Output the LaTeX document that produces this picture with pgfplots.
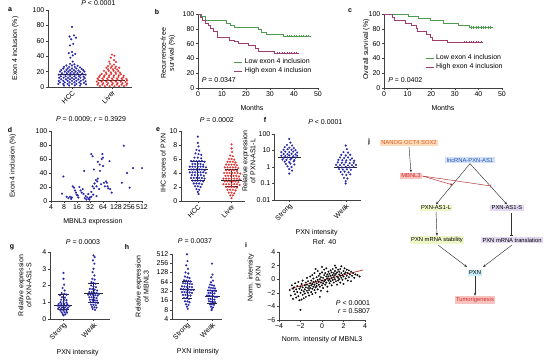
\documentclass[border=0pt]{standalone}
\usepackage{fontspec}
\setmainfont{Liberation Sans}
\usepackage{pgfplots}
\pgfplotsset{compat=1.18}
\usetikzlibrary{arrows.meta}

\definecolor{dotblue}{HTML}{2424A8}
\definecolor{dotred}{HTML}{DE3434}
\definecolor{kmgreen}{HTML}{4E9A4E}
\definecolor{kmpurple}{HTML}{9E3D6E}
\definecolor{boxorange}{HTML}{FDDDBA}
\definecolor{txtorange}{HTML}{E0562A}
\definecolor{boxred}{HTML}{F7C3BF}
\definecolor{txtred}{HTML}{D42A2A}
\definecolor{boxblue}{HTML}{CFE0F7}
\definecolor{txtblue}{HTML}{2A55B5}
\definecolor{boxgreen}{HTML}{EEF7C8}
\definecolor{boxpurple}{HTML}{E2D8F2}
\definecolor{boxcyan}{HTML}{C8EEF7}

\pgfplotsset{
  panel/.style={scale only axis, anchor=south west, clip=false,
    axis x line*=bottom, axis y line*=left,
    axis line style={black!75, line width=0.4pt},
    tick style={black!75, line width=0.4pt},
    tick align=outside, major tick length=2pt,
    tick label style={font=\fontsize{7}{8}\selectfont},
    label style={font=\fontsize{7}{8}\selectfont, align=center},
    title style={font=\fontsize{7}{8}\selectfont},
    /pgf/number format/assume math mode=true,
    xticklabel style={inner sep=1.5pt}, yticklabel style={inner sep=1.5pt}},
  rotlabels/.style={xticklabel style={rotate=45, anchor=north east, inner sep=0.5pt}},
  sw/.style={only marks, mark=*, mark size=1.0pt, color=#1, mark options={solid, fill=#1, draw=#1, line width=0.1pt}},
  stat/.style={black!85, line width=0.8pt, forget plot},
}

\begin{document}
\begin{tikzpicture}[x=1pt,y=1pt]
\useasboundingbox (0,0) rectangle (550,362);

% ---------------- a ----------------
\begin{axis}[panel, at={(48pt,275pt)}, width=84pt, height=77pt,
  xmin=-0.6, xmax=1.5, ymin=0, ymax=100,
  xtick={0,1}, xticklabels={HCC,Liver}, rotlabels,
  ytick={0,20,...,100},
  title={\textit{P} < 0.0001}, title style={at={(axis description cs:0.6,1.01)}, anchor=center},
  ylabel={Exon 4 inclusion (\%)}, ylabel style={at={(axis description cs:-0.39,0.5)}, anchor=center}]
\addplot[sw=dotblue] coordinates {
(0,78)
(0.05,67)(-0.06,65.5)(0.1,64)(-0.02,62)
(0.03,56)(-0.05,54)
(0,45.5)(-0.08,44)(0.08,43)(0.02,41)(-0.04,38)
(0.02,33)(-0.05,30)(0.06,29.5)
(-0.14,28)(0,28)(0.14,27.5)
(-0.2,26)(-0.07,26)(0.07,26)(0.2,25.5)
(-0.22,24)(-0.11,24)(0,24)(0.11,24)(0.24,23.5)
(-0.27,22)(-0.14,22)(-0.05,22)(0.05,22)(0.16,21.5)(0.28,22)
(-0.3,20)(-0.18,20)(-0.09,20)(0,20)(0.09,20)(0.2,19.5)(0.31,20)
(-0.25,18)(-0.13,18)(-0.04,18)(0.05,18)(0.14,18)(0.26,17.5)
(-0.33,16)(-0.2,16)(-0.1,16)(0,16)(0.1,16)(0.21,15.5)(0.34,16)
(-0.28,14)(-0.16,14)(-0.05,14)(0.06,14)(0.17,14)(0.29,13.5)
(-0.32,12)(-0.21,12)(-0.1,12)(0,12)(0.1,12)(0.21,12)(0.32,11.5)
(-0.27,10)(-0.15,10)(-0.05,10)(0.05,10)(0.16,10)(0.28,9.5)
(-0.33,8)(-0.22,8)(-0.11,8)(0,8)(0.11,8)(0.22,8)(0.34,7.5)
(-0.3,6)(-0.18,6)(-0.06,6)(0.06,6)(0.18,6)(0.3,5.5)
(-0.34,4)(-0.22,4)(-0.11,4)(0,4)(0.11,4)(0.22,4)(0.35,3.5)
(-0.2,2)(-0.07,2)(0.07,2.2)(0.2,1.8)
};
\addplot[sw=dotred] coordinates {
(1.0,42)(1.06,40.5)(0.97,38)
(1.05,35)(0.93,33)(1.1,32.5)
(0.95,30)(1.05,29)
(0.9,27)(1.0,27)(1.1,26.5)
(0.86,25)(0.97,25)(1.08,24.5)(1.18,25)
(0.9,23)(1.02,23)(1.13,22.5)
(0.8,21)(0.92,21)(1.04,21)(1.16,20.5)
(0.85,19)(0.97,19)(1.09,19)(1.2,18.5)
(0.74,17)(0.86,17)(0.98,17)(1.1,17)(1.22,16.5)
(0.7,15)(0.81,15)(0.93,15)(1.05,15)(1.17,15)(1.29,14.5)
(0.68,13)(0.8,13)(0.92,13)(1.04,13)(1.16,13)(1.28,12.5)
(0.64,11)(0.76,11)(0.88,11)(1.0,11)(1.12,11)(1.24,11)(1.36,10.5)
(0.66,9)(0.78,9)(0.9,9)(1.02,9)(1.14,9)(1.26,9)(1.38,8.5)
(0.62,7)(0.74,7)(0.86,7)(0.98,7)(1.1,7)(1.22,7)(1.34,6.5)
(0.66,5)(0.78,5)(0.9,5)(1.02,5)(1.14,5)(1.26,5)(1.38,4.5)
(0.64,3)(0.76,3)(0.88,3)(1.0,3)(1.12,3)(1.24,3)(1.36,2.5)
(0.7,1)(0.82,1)(0.94,1)(1.06,1)(1.18,1)(1.3,1)
};
\addplot[stat] coordinates {(-0.32,17)(0.32,17)};
\addplot[stat] coordinates {(0.68,9)(1.32,9)};
\end{axis}

% ---------------- b ----------------
\begin{axis}[panel, at={(198pt,274pt)}, width=120pt, height=74pt,
  xmin=0, xmax=50, ymin=0, ymax=100, xtick={0,10,...,50}, ytick={0,20,...,100},
  xlabel={Months}, xlabel style={at={(axis description cs:0.45,-0.27)}, anchor=center},
  ylabel={Recurrence-free\\survival (\%)}, ylabel style={at={(axis description cs:-0.25,0.47)}, anchor=center},
  legend style={at={(axis description cs:0.30,0.29)}, anchor=west, draw=none, fill=none,
    font=\fontsize{7}{8}\selectfont, inner sep=0pt, row sep=-1.5pt},
  legend cell align=left,
  legend image code/.code={\draw[#1, line width=0.6pt] (0pt,0pt) -- (8pt,0pt);}]
\addplot[kmgreen, line width=0.6pt, const plot] coordinates {
(0,100)(1.5,97)(3,92)(12,88)(13.5,85)(15,82)(25,79)(26.4,75)(28.5,73)(35.7,70)(47,70)};
\addlegendentry{Low exon 4 inclusion}
\addplot[kmpurple, line width=0.6pt, const plot] coordinates {
(0,100)(0.8,96)(1.8,92)(3,88)(4.2,85)(5.3,81)(6.5,77)(8,68)(13,65)(15,63)(17,61)(21,58)(24,53)(25,50)(32,47)(42,47)};
\addlegendentry{High exon 4 inclusion}
\addplot[kmgreen, only marks, mark=|, mark size=1.2pt, forget plot] coordinates {
(37,70)(38,70)(39,70)(40,70)(41,70)(42,70)(43,70)(44,70)(45,70)(46,70)};
\addplot[kmpurple, only marks, mark=|, mark size=1.2pt, forget plot] coordinates {
(33,47)(34,47)(35,47)(36,47)(37,47)(38,47)(39,47)(40,47)(41,47)};
\node[anchor=west, font=\fontsize{7}{8}\selectfont, inner sep=0pt] at (axis description cs:0.03,0.11) {\textit{P} = 0.0347};
\end{axis}

% ---------------- c ----------------
\begin{axis}[panel, at={(384pt,274pt)}, width=118pt, height=74pt,
  xmin=0, xmax=50, ymin=0, ymax=100, xtick={0,10,...,50}, ytick={0,20,...,100},
  xlabel={Months}, xlabel style={at={(axis description cs:0.5,-0.27)}, anchor=center},
  ylabel={Overall survival (\%)}, ylabel style={at={(axis description cs:-0.15,0.52)}, anchor=center},
  legend style={at={(axis description cs:0.35,0.345)}, anchor=west, draw=none, fill=none,
    font=\fontsize{7}{8}\selectfont, inner sep=0pt, row sep=-1.5pt},
  legend cell align=left,
  legend image code/.code={\draw[#1, line width=0.6pt] (0pt,0pt) -- (8pt,0pt);}]
\addplot[kmgreen, line width=0.6pt, const plot] coordinates {
(0,100)(10.5,97)(14.5,94)(19.5,91)(25,88)(31.5,85)(36,82)(46,82)};
\addlegendentry{Low exon 4 inclusion}
\addplot[kmpurple, line width=0.6pt, const plot] coordinates {
(0,100)(3.5,96)(4.5,91)(9,88)(11.5,85)(13.5,80)(14,76)(18,72)(19.5,68)(20.5,65)(27,62)(42,62)};
\addlegendentry{High exon 4 inclusion}
\addplot[kmgreen, only marks, mark=|, mark size=1.2pt, forget plot] coordinates {
(37,82)(38,82)(39,82)(40,82)(41,82)(42,82)(43,82)(44,82)(45,82)};
\addplot[kmpurple, only marks, mark=|, mark size=1.2pt, forget plot] coordinates {
(34,62)(35,62)(36,62)(37,62)(38,62)(39,62)(40,62)(41,62)};
\node[anchor=west, font=\fontsize{7}{8}\selectfont, inner sep=0pt] at (axis description cs:0.035,0.11) {\textit{P} = 0.0402};
\end{axis}

% ---------------- d ----------------
\begin{axis}[panel, at={(51pt,161pt)}, width=91pt, height=70pt,
  xmin=2, xmax=9, ymin=0, ymax=100, xtick={2,...,9}, xticklabels={4,8,16,32,64,128,256,512},
  ytick={0,20,...,100},
  title={\textit{P} = 0.0009; \textit{r} = 0.3929}, title style={at={(axis description cs:0.44,1.08)}, anchor=center},
  xlabel={MBNL3 expression}, xlabel style={at={(axis description cs:0.46,-0.29)}, anchor=center},
  ylabel={Exon 4 inclusion (\%)}, ylabel style={at={(axis description cs:-0.42,0.5)}, anchor=center}]
\addplot[sw=dotblue] coordinates {
(2.85,10.5)(2.95,35)(3.2,6)(3.33,4)(3.46,6)(3.6,5)(3.67,21)(3.77,19)(3.85,15)(3.92,12)
(3.97,9)(4.1,5)(4.18,20)(4.28,15)(4.36,12)(4.44,17)(4.5,10)(4.6,4)(4.67,7)(4.72,2)
(4.8,5)(4.87,10)(4.95,2)(5.0,5)(5.1,6)(5.1,13)(5.2,21)(5.3,18)(5.35,25)(5.45,30)
(5.5,7)(4.55,43)(5.1,67)(5.2,64)(5.3,45)(5.5,21)(5.55,28)(5.6,32)(5.7,17)(5.77,43)
(5.85,24)(5.9,60)(5.95,67)(6.0,62)(6.07,26)(6.15,21)(6.23,28)(6.3,26)(6.35,21)(6.4,18)
(6.5,57)(6.55,17)(6.67,12)(5.75,52)(5.6,56)(6.0,50)(7.6,79)(7.45,26)(7.85,40)(8.05,19)
(8.3,47)(9.0,47)(4.9,3)(5.25,9)(3.55,3)(4.05,8)};
\end{axis}

% ---------------- e ----------------
\begin{axis}[panel, at={(181pt,161pt)}, width=64pt, height=70pt,
  xmin=-0.5, xmax=1.4, ymin=0, ymax=10, xtick={0,1}, xticklabels={HCC,Liver}, rotlabels,
  ytick={0,2,...,10},
  title={\textit{P} = 0.0002}, title style={at={(axis description cs:0.56,1.07)}, anchor=center},
  ylabel={IHC scores of PXN}, ylabel style={at={(axis description cs:-0.28,0.54)}, anchor=center}]
\addplot[sw=dotblue] coordinates {
(0,9.2)
(0,8.3)(0.02,7.8)
(-0.04,7.3)(0.04,7.2)
(-0.07,6.8)(0.02,6.7)(0.1,6.6)
(-0.1,6.2)(0,6.2)(0.1,6.1)
(-0.2,5.7)(-0.12,5.7)(-0.04,5.7)(0.04,5.7)(0.12,5.7)(0.2,5.6)
(-0.16,5.3)(-0.08,5.3)(0,5.3)(0.08,5.3)(0.16,5.2)
(-0.24,4.9)(-0.16,4.9)(-0.08,4.9)(0,4.9)(0.08,4.9)(0.16,4.9)(0.24,4.8)
(-0.2,4.5)(-0.12,4.5)(-0.04,4.5)(0.04,4.5)(0.12,4.5)(0.2,4.4)
(-0.24,4.1)(-0.16,4.1)(-0.08,4.1)(0,4.1)(0.08,4.1)(0.16,4.1)(0.24,4.0)
(-0.18,3.7)(-0.09,3.7)(0,3.7)(0.09,3.7)(0.18,3.6)
(-0.2,3.3)(-0.12,3.3)(-0.04,3.3)(0.04,3.3)(0.12,3.3)(0.2,3.2)
(-0.16,2.9)(-0.08,2.9)(0,2.9)(0.08,2.9)(0.16,2.8)
(-0.12,2.5)(-0.04,2.5)(0.04,2.5)(0.12,2.4)
(-0.08,2.1)(0,2.1)(0.08,2.0)
(-0.04,1.7)(0.04,1.6)
(0,1.3)(0.02,1.0)};
\addplot[sw=dotred] coordinates {
(1,8.1)
(1,7.5)(1.02,7.0)
(0.96,6.5)(1.04,6.4)
(0.92,6.0)(1.0,6.0)(1.08,5.9)
(0.88,5.6)(0.96,5.6)(1.04,5.6)(1.12,5.5)
(0.84,5.2)(0.92,5.2)(1.0,5.2)(1.08,5.2)(1.16,5.1)
(0.8,4.8)(0.88,4.8)(0.96,4.8)(1.04,4.8)(1.12,4.8)(1.2,4.7)
(0.84,4.4)(0.92,4.4)(1.0,4.4)(1.08,4.4)(1.16,4.3)
(0.78,4.0)(0.86,4.0)(0.94,4.0)(1.02,4.0)(1.1,4.0)(1.18,4.0)(1.26,3.9)
(0.82,3.6)(0.9,3.6)(0.98,3.6)(1.06,3.6)(1.14,3.6)(1.22,3.5)
(0.76,3.2)(0.84,3.2)(0.92,3.2)(1.0,3.2)(1.08,3.2)(1.16,3.2)(1.24,3.1)
(0.8,2.8)(0.88,2.8)(0.96,2.8)(1.04,2.8)(1.12,2.8)(1.2,2.7)
(0.76,2.4)(0.84,2.4)(0.92,2.4)(1.0,2.4)(1.08,2.4)(1.16,2.4)(1.24,2.3)
(0.84,2.0)(0.92,2.0)(1.0,2.0)(1.08,2.0)(1.16,1.9)
(0.88,1.6)(0.96,1.6)(1.04,1.6)(1.12,1.5)
(0.92,1.2)(1.0,1.2)(1.08,1.1)
(0.96,0.8)(1.04,0.8)
(1.0,0.4)};
\addplot[stat] coordinates {(-0.3,4.5)(0.3,4.5)};
\addplot[stat] coordinates {(-0.2,5.7)(0.2,5.7)};
\addplot[stat] coordinates {(-0.2,3.0)(0.2,3.0)};
\addplot[stat] coordinates {(0,3.0)(0,5.7)};
\addplot[stat] coordinates {(0.7,3.0)(1.3,3.0)};
\addplot[stat] coordinates {(0.8,4.5)(1.2,4.5)};
\addplot[stat] coordinates {(0.8,2.1)(1.2,2.1)};
\addplot[stat] coordinates {(1,2.1)(1,4.5)};
\end{axis}

% ---------------- f ----------------
\begin{axis}[panel, at={(274pt,162pt)}, width=87pt, height=66pt,
  xmin=-0.27, xmax=1.27, ymode=log, ymin=0.01, ymax=100, yminorticks=false,
  ytick={0.01,0.1,1,10,100}, yticklabels={0.01,0.1,1,10,100},
  xtick={0,1}, xticklabels={Strong,Weak}, rotlabels,
  title={\textit{P} < 0.0001}, title style={at={(axis description cs:0.59,1.09)}, anchor=center},
  xlabel={PXN intensity}, xlabel style={at={(axis description cs:0.49,-0.5)}, anchor=center},
  ylabel={Relative expression\\of PXN-AS1-L}, ylabel style={at={(axis description cs:-0.29,0.59)}, anchor=center}]
\addplot[sw=dotblue] coordinates {
(0,50)(0.02,30)
(-0.04,22)(0.05,20)
(-0.08,16)(0,15)(0.08,14)
(-0.1,11)(-0.03,12)(0.04,11)(0.11,10.5)
(-0.14,8)(-0.07,8.5)(0,8)(0.07,8.5)(0.14,7.5)
(-0.1,6.2)(-0.03,6)(0.04,6.3)(0.11,5.8)
(-0.14,4.8)(-0.07,4.6)(0,5)(0.07,4.5)(0.14,4.8)
(-0.1,3.6)(-0.03,3.8)(0.04,3.5)(0.11,3.7)
(-0.12,2.8)(-0.05,2.7)(0.02,2.9)(0.09,2.6)
(-0.08,2.1)(0,2.0)(0.08,2.2)
(-0.06,1.5)(0.02,1.6)(0.09,1.4)
(-0.03,1.1)(0.04,1.0)
(0,0.75)(0.05,0.6)
(0,0.4)};
\addplot[sw=dotblue] coordinates {
(1,20)(1.02,12)
(0.96,8)(1.04,7.5)
(0.92,5.5)(1.0,5)(1.08,5.5)
(0.9,3.8)(0.97,3.5)(1.04,3.8)(1.11,3.3)
(0.87,2.7)(0.94,2.6)(1.01,2.5)(1.08,2.7)(1.15,2.4)
(0.86,1.9)(0.93,1.8)(1.0,1.9)(1.07,1.7)(1.14,1.8)
(0.83,1.35)(0.9,1.3)(0.97,1.4)(1.04,1.25)(1.11,1.3)(1.18,1.35)
(0.86,1.0)(0.93,0.95)(1.0,1.0)(1.07,0.95)(1.14,1.0)
(0.88,0.75)(0.95,0.7)(1.02,0.72)(1.09,0.68)
(0.91,0.5)(0.98,0.52)(1.05,0.48)
(0.94,0.35)(1.01,0.33)(1.08,0.36)
(0.97,0.22)(1.03,0.2)
(1,0.14)(1.0,0.1)};
\addplot[stat] coordinates {(-0.2,4)(0.2,4)};
\addplot[stat] coordinates {(0.8,1)(1.2,1)};
\end{axis}

% ---------------- g ----------------
\begin{axis}[panel, at={(50pt,43pt)}, width=60pt, height=67pt,
  xmin=-0.45, xmax=1.55, ymin=0, ymax=4, ytick={0,1,...,4},
  xtick={0,1}, xticklabels={Strong,Weak}, rotlabels,
  title={\textit{P} = 0.0003}, title style={at={(axis description cs:0.55,1.06)}, anchor=center},
  xlabel={PXN intensity}, xlabel style={at={(axis description cs:0.46,-0.5)}, anchor=center},
  ylabel={Relative expression\\of PXN-AS1-S}, ylabel style={at={(axis description cs:-0.42,0.5)}, anchor=center}]
\addplot[sw=dotblue] coordinates {
(0,2.75)(0,2.4)(0.02,2.05)(-0.03,1.85)(0.04,1.7)
(-0.06,1.55)(0.03,1.5)(0.1,1.45)(-0.12,1.42)
(-0.05,1.3)(0.05,1.28)
(-0.08,1.15)(0.02,1.15)(0.1,1.12)
(-0.1,1.0)(0,1.02)(0.1,0.98)
(-0.16,0.9)(-0.07,0.9)(0.03,0.9)(0.13,0.88)
(-0.2,0.8)(-0.1,0.8)(0,0.8)(0.1,0.8)(0.2,0.78)
(-0.15,0.7)(-0.05,0.7)(0.05,0.7)(0.15,0.68)
(-0.18,0.6)(-0.08,0.6)(0.02,0.6)(0.12,0.6)
(-0.1,0.5)(0,0.5)(0.1,0.48)
(-0.06,0.4)(0.04,0.4)(0.12,0.38)
(-0.03,0.3)(0.06,0.28)
(0,0.22)};
\addplot[sw=dotblue] coordinates {
(1,3.8)(1.04,3.7)(0.98,3.5)(1.03,3.3)(1.0,3.0)(0.97,2.8)(1.03,2.6)
(0.96,2.4)(1.04,2.35)
(0.93,2.2)(1.0,2.15)(1.07,2.1)
(0.92,2.0)(1.0,1.95)(1.08,1.9)
(0.88,1.8)(0.96,1.78)(1.04,1.75)(1.12,1.7)
(0.86,1.6)(0.94,1.6)(1.02,1.58)(1.1,1.55)(1.18,1.5)
(0.82,1.45)(0.9,1.45)(0.98,1.45)(1.06,1.42)(1.14,1.4)
(0.86,1.3)(0.94,1.3)(1.02,1.28)(1.1,1.25)
(0.88,1.15)(0.96,1.15)(1.04,1.12)(1.12,1.1)
(0.9,1.0)(0.98,1.0)(1.06,0.98)(1.14,0.95)
(0.92,0.85)(1.0,0.85)(1.08,0.82)
(0.95,0.72)(1.03,0.7)(1.1,0.68)
(0.97,0.6)(1.05,0.55)};
\addplot[stat] coordinates {(-0.3,0.8)(0.3,0.8)};
\addplot[stat] coordinates {(-0.18,1.45)(0.18,1.45)};
\addplot[stat] coordinates {(-0.18,0.58)(0.18,0.58)};
\addplot[stat] coordinates {(0,0.58)(0,1.45)};
\addplot[stat] coordinates {(0.7,1.5)(1.3,1.5)};
\addplot[stat] coordinates {(0.82,2.15)(1.18,2.15)};
\addplot[stat] coordinates {(0.82,1.0)(1.18,1.0)};
\addplot[stat] coordinates {(1,1.0)(1,2.15)};
\end{axis}

% ---------------- h ----------------
\begin{axis}[panel, at={(172pt,43pt)}, width=50pt, height=65pt,
  xmin=-0.6, xmax=1.4, ymode=log, log basis y=2, ymin=4, ymax=512, yminorticks=false,
  ytick={4,8,16,32,64,128,256,512}, yticklabels={4,8,16,32,64,128,256,512},
  xtick={0,1}, xticklabels={Strong,Weak}, rotlabels,
  title={\textit{P} = 0.0037}, title style={at={(axis description cs:0.46,1.1)}, anchor=center},
  xlabel={PXN intensity}, xlabel style={at={(axis description cs:0.52,-0.51)}, anchor=center},
  ylabel={Relative expression\\of MBNL3}, ylabel style={at={(axis description cs:-0.6,0.5)}, anchor=center}]
\addplot[sw=dotblue] coordinates {
(0,500)(0.02,300)(-0.03,220)(0.04,170)
(-0.06,130)(0.05,120)
(-0.08,95)(0.02,90)(0.1,85)
(-0.12,72)(-0.03,70)(0.06,68)(0.14,66)
(-0.16,58)(-0.07,57)(0.02,56)(0.11,55)(0.2,54)
(-0.2,46)(-0.1,45)(0,44)(0.1,44)(0.2,43)
(-0.24,38)(-0.14,37)(-0.04,36)(0.06,36)(0.16,35)(0.26,35)
(-0.2,30)(-0.1,30)(0,29)(0.1,29)(0.2,28)
(-0.16,24)(-0.06,24)(0.04,23)(0.14,23)
(-0.12,19)(-0.02,19)(0.08,18)
(-0.08,15)(0.02,15)(0.1,14)
(-0.04,12)(0.06,11.5)
(0,10)(0.03,8.5)};
\addplot[sw=dotblue] coordinates {
(1,250)
(1.02,110)(0.97,90)
(1.04,70)(0.96,62)
(0.92,52)(1.0,50)(1.08,48)
(0.88,42)(0.96,41)(1.04,40)(1.12,39)
(0.84,34)(0.92,34)(1.0,33)(1.08,33)(1.16,32)
(0.86,28)(0.94,28)(1.02,27)(1.1,27)
(0.8,23)(0.88,23)(0.96,22)(1.04,22)(1.12,21)(1.2,21)
(0.86,18)(0.94,18)(1.02,17)(1.1,17)
(0.88,15)(0.96,14.5)(1.04,14)(1.12,14)
(0.92,12)(1.0,12)(1.08,11.5)
(0.96,10)(1.04,9.5)
(1,8.5)(0.98,7.8)};
\addplot[stat] coordinates {(-0.3,36)(0.3,36)};
\addplot[stat] coordinates {(-0.2,64)(0.2,64)};
\addplot[stat] coordinates {(-0.2,18)(0.2,18)};
\addplot[stat] coordinates {(0,18)(0,64)};
\addplot[stat] coordinates {(0.7,21)(1.3,21)};
\addplot[stat] coordinates {(0.8,35)(1.2,35)};
\addplot[stat] coordinates {(0.8,13)(1.2,13)};
\addplot[stat] coordinates {(1,13)(1,35)};
\end{axis}

% ---------------- i ----------------
\begin{axis}[panel, at={(279pt,42pt)}, width=86pt, height=68pt,
  xmin=-4, xmax=4, ymin=-6, ymax=4,
  xtick={-4,-2,...,4}, xticklabels={−4,−2,0,2,4},
  ytick={-6,-4,...,4}, yticklabels={−6,−4,−2,0,2,4},
  title={Ref. 40}, title style={at={(axis description cs:0.53,1.06)}, anchor=center},
  xlabel={Norm. intensity of MBNL3}, xlabel style={at={(axis description cs:0.5,-0.29)}, anchor=center},
  ylabel={Norm. intensity\\of PXN}, ylabel style={at={(axis description cs:-0.29,0.62)}, anchor=center}]
\addplot[only marks, mark=*, mark size=0.9pt, color=black, mark options={solid, fill=black, line width=0.1pt}] coordinates {
(-3.0,-1.6)(-2.9,-2.4)(-2.8,-0.9)(-2.7,-2.9)(-2.6,-1.8)(-2.6,-1.2)(-2.5,-2.2)(-2.5,-0.6)
(-2.4,-1.5)(-2.4,-2.7)(-2.3,-1.0)(-2.3,-1.9)(-2.2,-2.5)(-2.2,-0.4)(-2.1,-1.4)(-2.1,-3.1)
(-2.0,-1.1)(-2.0,-4.5)(-2.0,-2.0)(-1.9,-0.7)(-1.9,-1.6)(-1.8,-2.3)(-1.8,-1.2)(-1.8,-0.2)
(-1.7,-1.8)(-1.7,-2.8)(-1.6,-0.9)(-1.6,-1.5)(-1.6,-2.1)(-1.5,-0.5)(-1.5,-1.2)(-1.5,-2.6)
(-1.4,-1.7)(-1.4,-0.8)(-1.4,0.2)(-1.3,-1.3)(-1.3,-2.0)(-1.3,-0.3)(-1.2,-1.0)(-1.2,-1.6)
(-1.2,-2.4)(-1.1,-0.6)(-1.1,-1.3)(-1.1,0.4)(-1.0,-0.9)(-1.0,-1.9)(-1.0,-0.2)(-0.9,-1.4)
(-0.9,-0.7)(-0.9,0.6)(-0.9,-2.2)(-0.8,-1.1)(-0.8,-0.4)(-0.8,0.1)(-0.7,-1.6)(-0.7,-0.8)
(-0.7,0.9)(-0.6,-0.3)(-0.6,-1.2)(-0.6,-2.0)(-0.5,-0.6)(-0.5,0.3)(-0.5,-1.0)(-0.4,-0.1)
(-0.4,-1.5)(-0.4,1.2)(-0.3,-0.8)(-0.3,0.5)(-0.3,-0.4)(-0.2,-1.1)(-0.2,0.0)(-0.2,0.8)
(-0.1,-0.5)(-0.1,-1.7)(-0.1,0.3)(0.0,-0.2)(0.0,-0.9)(0.0,1.0)(0.1,0.2)(0.1,-0.6)
(0.1,-1.3)(0.2,0.6)(0.2,-0.3)(0.2,1.4)(0.3,-0.1)(0.3,-0.8)(0.3,0.9)(0.4,0.4)
(0.4,-0.5)(0.4,1.6)(0.5,0.1)(0.5,-1.1)(0.5,0.7)(0.6,-0.2)(0.6,1.1)(0.6,0.4)
(0.7,-0.6)(0.7,0.8)(0.7,0.0)(0.8,1.3)(0.8,-0.3)(0.8,0.5)(0.9,0.2)(0.9,-0.9)
(0.9,1.0)(1.0,0.6)(1.0,-0.1)(1.0,1.5)(1.1,0.3)(1.1,-0.5)(1.1,0.9)(1.2,0.0)
(1.2,1.2)(1.2,0.6)(1.3,-0.3)(1.3,0.8)(1.3,1.7)(1.4,0.4)(1.4,-0.8)(1.4,1.0)
(1.5,0.2)(1.5,1.4)(1.5,-0.2)(1.6,0.7)(1.6,1.1)(1.6,0.0)(1.7,0.5)(1.7,-0.5)
(1.7,1.5)(1.8,0.9)(1.8,0.2)(1.8,1.9)(1.9,0.6)(1.9,-0.1)(2.0,1.2)(2.0,0.4)
(2.0,-0.7)(2.1,0.8)(2.1,1.6)(2.2,0.1)(2.2,1.0)(2.3,0.5)(2.3,1.4)(2.4,-0.2)
(2.4,0.9)(2.5,1.3)(2.5,0.3)(2.6,0.7)(2.7,1.1)(2.7,-0.3)(2.8,0.5)(2.9,0.9)
(3.0,0.2)(3.1,0.7)(3.3,0.6)(3.5,0.4)(-2.7,-1.4)(-0.2,-2.6)(0.5,-1.8)(-1.9,-3.0)
(1.2,2.0)(0.0,1.8)(-0.6,1.5)};
\addplot[color=dotred!85!black, line width=0.7pt] coordinates {(-2.9,-1.35)(3.8,1.35)};
\node[anchor=east, align=right, font=\fontsize{7}{8}\selectfont, inner sep=0pt] at (axis description cs:1.06,0.19) {\textit{P} < 0.0001\\\textit{r} = 0.5807};
\end{axis}

% ---------------- j ----------------
\begin{scope}[font=\fontsize{5.8}{6.5}\selectfont, every node/.style={inner xsep=1.5pt, inner ysep=1.3pt},
  arr/.style={-{Stealth[length=3pt,width=2.4pt]}, black!80, line width=0.45pt},
  rarr/.style={-{Stealth[length=3pt,width=2.4pt]}, dotred!80!black, line width=0.45pt},
  rbar/.style={-{Bar[width=3pt]}, dotred!80!black, line width=0.45pt}]
\node[fill=boxorange, text=txtorange] (nan) at (409,219) {NANOG OCT4 SOX2};
\node[fill=boxred, text=txtred] (mb) at (411,186) {MBNL3};
\node[fill=boxblue, text=txtblue] (lnc) at (470,202) {lncRNA-PXN-AS1};
\node[fill=boxgreen] (l) at (436,154) {PXN-AS1-L};
\node[fill=boxpurple] (s) at (507,154) {PXN-AS1-S};
\node[fill=boxgreen] (st) at (437,122) {PXN mRNA stability};
\node[fill=boxpurple] (tr) at (512,122) {PXN mRNA translation};
\node[fill=boxcyan] (pxn) at (475,89) {PXN};
\node[fill=boxred, text=txtred] (tum) at (475,62) {Tumorigenesis};
\draw[arr] (nan.south) -- (mb.north);
\draw[arr] (lnc.south) -- (l.north);
\draw[arr] (lnc.south) -- (s.north);
\draw[rarr] (mb.east) -- (453,177);
\draw[rbar] (mb.east) -- (491,176);
\draw[arr] (l.south) -- (st.north);
\draw[-{Bar[width=3pt]}, black!80, line width=0.45pt] (511,149) -- (511,127);
\draw[arr] (438,117) -- (467,95);
\draw[arr] (512,117) -- (483,95);
\draw[arr] (pxn.south) -- (tum.north);
\end{scope}

% ---------------- panel letters ----------------
\begin{scope}[every node/.style={font=\bfseries\fontsize{7}{8}\selectfont, inner sep=0pt}]
\node at (10,352) {a};
\node at (157,350) {b};
\node at (350,351) {c};
\node at (10,232) {d};
\node at (158,232) {e};
\node at (265,242) {f};
\node at (12,115) {g};
\node at (127,115) {h};
\node at (246,117) {i};
\node at (369,220) {j};
\end{scope}
\end{tikzpicture}
\end{document}
